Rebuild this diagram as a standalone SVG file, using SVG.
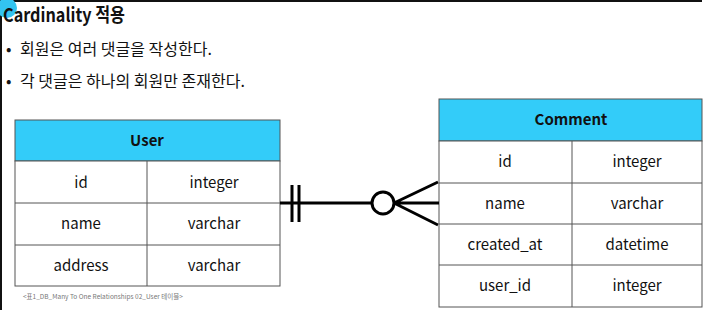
<svg xmlns="http://www.w3.org/2000/svg" width="704" height="315" viewBox="0 0 704 315">
<style>
.t{font-family:"Noto Sans CJK KR","Noto Sans",sans-serif;fill:#111}
.cell{fill:#fff;stroke:#555;stroke-width:1}
.hdr{fill:#33ccf9;stroke:#555;stroke-width:1}
.ln{stroke:#555;stroke-width:1}
.c{font-size:15px;text-anchor:middle}
.b{font-size:16px}
.conn{stroke:#000;stroke-width:3;fill:none}
</style>
<rect width="704" height="315" fill="#fff"/>
<line x1="0" y1="1" x2="702" y2="1" stroke="#111" stroke-width="2"/>
<line x1="1" y1="0" x2="1" y2="310" stroke="#111" stroke-width="2"/>
<circle cx="7" cy="8" r="10" fill="#33c4f0"/>
<text class="t" x="3" y="22" font-size="19" font-weight="bold" textLength="122" lengthAdjust="spacingAndGlyphs">Cardinality 적용</text>
<text class="t b" x="6" y="55">•</text>
<text class="t b" x="20" y="55">회원은 여러 댓글을 작성한다.</text>
<text class="t b" x="6" y="87">•</text>
<text class="t b" x="20" y="87">각 댓글은 하나의 회원만 존재한다.</text>
<g id="user">
<rect class="hdr" x="15" y="120" width="265" height="41"/>
<rect class="cell" x="15" y="161" width="265" height="125"/>
<line class="ln" x1="15" y1="203" x2="280" y2="203"/>
<line class="ln" x1="15" y1="245" x2="280" y2="245"/>
<line class="ln" x1="147" y1="161" x2="147" y2="286"/>
<text class="t c" x="147" y="146" font-weight="bold">User</text>
<text class="t c" x="81" y="188">id</text>
<text class="t c" x="214" y="188">integer</text>
<text class="t c" x="81" y="229">name</text>
<text class="t c" x="214" y="229">varchar</text>
<text class="t c" x="81" y="271">address</text>
<text class="t c" x="214" y="271">varchar</text>
<text class="t" x="23" y="299" font-size="6.5" style="fill:#777">&lt;표1_DB_Many To One Relationships 02_User 테이블&gt;</text>
</g>
<g id="comment">
<rect class="hdr" x="439" y="99" width="263" height="42"/>
<rect class="cell" x="439" y="141" width="263" height="166"/>
<line class="ln" x1="439" y1="183" x2="702" y2="183"/>
<line class="ln" x1="439" y1="224" x2="702" y2="224"/>
<line class="ln" x1="439" y1="265" x2="702" y2="265"/>
<line class="ln" x1="572" y1="141" x2="572" y2="307"/>
<text class="t c" x="571" y="125" font-weight="bold">Comment</text>
<text class="t c" x="505" y="167">id</text>
<text class="t c" x="637" y="167">integer</text>
<text class="t c" x="505" y="209">name</text>
<text class="t c" x="637" y="209">varchar</text>
<text class="t c" x="505" y="250">created_at</text>
<text class="t c" x="637" y="250">datetime</text>
<text class="t c" x="505" y="291">user_id</text>
<text class="t c" x="637" y="291">integer</text>
</g>
<g id="connectors">
<line class="conn" x1="280" y1="203" x2="372" y2="203"/>
<line class="conn" x1="292" y1="185" x2="292" y2="222"/>
<line class="conn" x1="299" y1="185" x2="299" y2="222"/>
<circle class="conn" cx="383" cy="203" r="11"/>
<path class="conn" d="M394 203 L438 182 M394 203 L439 203 M394 203 L438 225"/>
</g>
</svg>
